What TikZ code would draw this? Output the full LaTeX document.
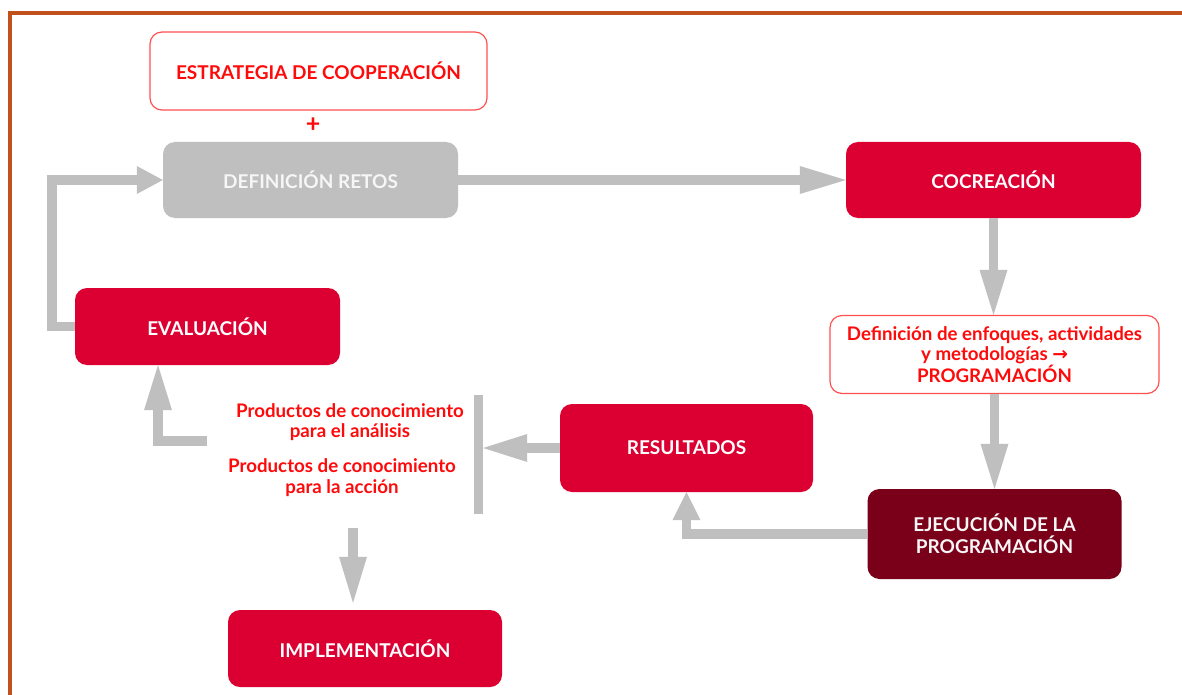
\documentclass[tikz,border=0pt]{standalone}
\usepackage{fontspec}
\setmainfont{Lato}
\newfontfamily\dejavu{DejaVu Sans}
\usetikzlibrary{arrows.meta}
\definecolor{crim}{RGB}{220,0,50}
\definecolor{maroon}{RGB}{122,0,26}
\definecolor{gbar}{RGB}{191,191,191}
\definecolor{rtext}{RGB}{255,10,10}
\definecolor{rline}{RGB}{255,80,80}
\definecolor{frame}{RGB}{192,80,28}
\definecolor{paleT}{RGB}{246,246,246}
\tikzset{
  box/.style={rounded corners=12pt, minimum height=77pt, inner sep=0pt, font=\fontsize{19}{22}\selectfont\bfseries, align=center},
  redbox/.style={box, fill=crim, text=white},
  darkbox/.style={box, fill=maroon, text=paleT},
  graybox/.style={box, fill=gbar, text=paleT},
  linebox/.style={box, fill=white, draw=rline, line width=1.2pt, text=rtext},
  redtxt/.style={text=rtext, font=\fontsize{18.7}{20.5}\selectfont\bfseries, align=center, inner sep=0pt},
  arr/.style={draw=gbar, line width=9.5pt, line join=miter,
    -{Triangle[length=#1, width=28pt, line width=0pt, fill=gbar]}},
  arr/.default=46pt
}
\begin{document}
\begin{tikzpicture}[x=1pt,y=-1pt]
\useasboundingbox (0,0) rectangle (1182,695);
\fill[white] (0,0) rectangle (1182,695);
% frame
\draw[frame, line width=4pt] (9.5,700) -- (9.5,13) -- (1190,13);

% nodes
\node[linebox, minimum width=337pt, minimum height=78pt] (estr) at (318.5,71) {ESTRATEGIA DE COOPERACIÓN};
\node[text=rtext, font=\fontsize{25}{26}\selectfont\bfseries, inner sep=0pt] (plus) at (313,125.5) {+};
\node[graybox, minimum width=295pt, minimum height=76pt] (retos) at (310.5,180) {DEFINICIÓN RETOS};
\node[redbox, minimum width=295pt, minimum height=76pt] (coc) at (993.5,180) {COCREACIÓN};
\node[linebox, minimum width=329pt, minimum height=78pt, font=\fontsize{18.7}{20}\selectfont\bfseries] (enf) at (994.5,354.5)
  {Definición de enfoques, actividades\\ y metodologías {\dejavu\bfseries →}\\ PROGRAMACIÓN};
\node[darkbox, minimum width=254pt, minimum height=90pt] (ejec) at (994.5,534) {EJECUCIÓN DE LA\\ PROGRAMACIÓN};
\node[redbox, minimum width=253pt, minimum height=88pt] (res) at (686.5,448) {RESULTADOS};
\node[redbox, minimum width=265pt, minimum height=77pt] (eval) at (207.5,326.5) {EVALUACIÓN};
\node[redbox, minimum width=274pt, minimum height=77pt] (impl) at (365,648.5) {IMPLEMENTACIÓN};
\node[redtxt] (p1) at (350,422) {Productos de conocimiento\\ para el análisis};
\node[redtxt] (p2) at (342,477.5) {Productos de conocimiento\\ para la acción};
\node[fill=gbar, minimum width=9pt, minimum height=119pt, inner sep=0pt] (bar) at (478.5,454.5) {};

\coordinate (c1) at (207,441);
\coordinate (c2) at (353,528);

% connectors
\draw[arr] (retos.east) -- (coc.west);
\draw[arr=45pt] (coc.south -| enf.north) ++(-1,0) -- ([xshift=-1pt]enf.north);
\draw[arr=45pt] (enf.south) -- (ejec.north);
\draw[arr=28pt] (ejec.west) -| (res.south);
\draw[arr=44pt] (res.west) -- (bar.east |- res.west);
\draw[arr=45pt] (c1) -| ([xshift=-49.5pt]eval.south);
\draw[arr=26pt] (eval.west) -- ([xshift=-23pt]eval.west) |- (retos.west);
\draw[arr, shorten >=7pt] (c2) -- (impl.north -| c2);
\end{tikzpicture}
\end{document}
